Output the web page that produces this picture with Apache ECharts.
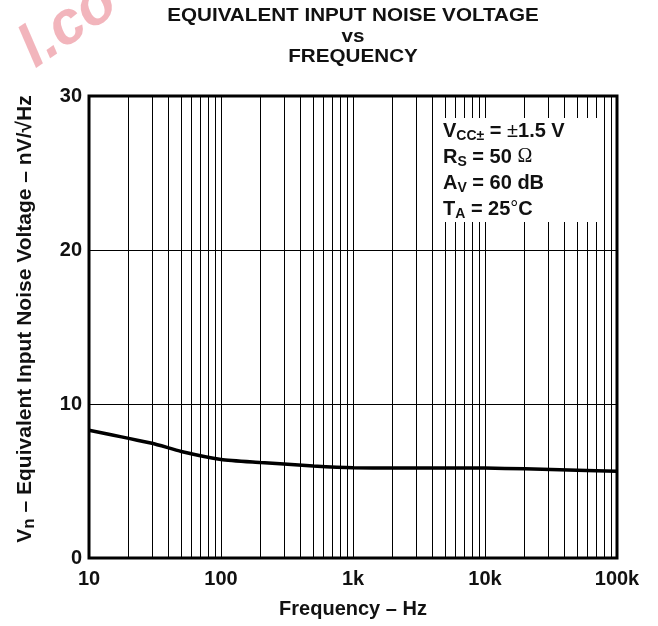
<!DOCTYPE html>
<html>
<head>
<meta charset="utf-8">
<script src="https://cdn.jsdelivr.net/npm/echarts@6/dist/echarts.min.js"></script>
<style>
html,body{margin:0;padding:0;background:#fff;}
#chart{width:658px;height:626px;}
</style>
</head>
<body>
<div id="chart"></div>
<script>
// Data
const freqHz = [10, 30, 50, 100, 200, 300, 500, 1000, 2000, 5000, 10000, 20000, 50000, 100000];
const noiseNv = [8.3, 7.45, 6.92, 6.4, 6.2, 6.1, 5.97, 5.86, 5.85, 5.85, 5.84, 5.79, 5.7, 5.63];
const xTickValues = [10, 100, 1000, 10000, 100000];
const xTickLabels = ['10', '100', '1k', '10k', '100k'];
const yTickLabels = ['0', '10', '20', '30'];
const minorGridFreqs = [20,30,40,50,60,70,80,90, 200,300,400,500,600,700,800,900,
  2000,3000,4000,5000,6000,7000,8000,9000, 20000,30000,40000,50000,60000,70000,80000,90000];
const titleLines = ['EQUIVALENT INPUT NOISE VOLTAGE', 'vs', 'FREQUENCY'];

const FONT = 'Liberation Sans, Arial, sans-serif';
const chart = echarts.init(document.getElementById('chart'));

const titleY = [16, 37, 57];
const titleGraphics = titleLines.map((t, i) => ({
  type: 'text', z: 60, x: 353, y: titleY[i], scaleX: 1.18,
  style: { text: t, x: 0, y: 0, align: 'center', verticalAlign: 'middle',
    font: 'bold 17.5px ' + FONT, fill: '#111' }
}));

const option = {
  backgroundColor: '#fff',
  animation: false,
  grid: { left: 89, right: 41, top: 96, bottom: 68, show: true, borderColor: '#000', borderWidth: 3, backgroundColor: 'transparent' },
  xAxis: {
    type: 'log', logBase: 10, min: 10, max: 100000,
    name: 'Frequency \u2013 Hz', nameLocation: 'middle', nameGap: 41,
    nameTextStyle: { fontFamily: FONT, fontWeight: 'bold', fontSize: 20, color: '#111' },
    axisLine: { show: false }, axisTick: { show: false },
    axisLabel: {
      margin: 11, fontFamily: FONT, fontWeight: 'bold', fontSize: 20, color: '#111',
      formatter: v => { const i = xTickValues.findIndex(t => Math.abs(t - v) / t < 1e-6); return i >= 0 ? xTickLabels[i] : ''; }
    },
    splitLine: { show: true, lineStyle: { color: '#000', width: 1 } }
  },
  yAxis: {
    type: 'value', min: 0, max: 30, interval: 10,
    name: '{v|V}{n|n}{t| \u2013 Equivalent Input Noise Voltage \u2013 nV/\u221AHz}',
    nameLocation: 'middle', nameGap: 51, nameRotate: 90,
    nameTextStyle: {
      fontFamily: FONT, fontWeight: 'bold', fontSize: 21, color: '#111',
      padding: [0, 0, 0, 16],
      rich: {
        v: { fontFamily: FONT, fontWeight: 'bold', fontSize: 21, color: '#111' },
        n: { fontFamily: FONT, fontWeight: 'bold', fontSize: 17, color: '#111', padding: [8, 0, 0, 0] },
        t: { fontFamily: FONT, fontWeight: 'bold', fontSize: 21, color: '#111' }
      }
    },
    axisLine: { show: false }, axisTick: { show: false },
    axisLabel: {
      margin: 7, fontFamily: FONT, fontWeight: 'bold', fontSize: 20, color: '#111',
      formatter: v => yTickLabels[Math.round(v / 10)]
    },
    splitLine: { show: true, lineStyle: { color: '#000', width: 1 } }
  },
  series: [
    {
      type: 'line', data: [], silent: true,
      markLine: {
        silent: true, symbol: 'none', label: { show: false },
        lineStyle: { color: '#000', width: 1, type: 'solid' },
        data: minorGridFreqs.map(f => ({ xAxis: f }))
      },
      z: 1
    },
    {
      type: 'line', data: freqHz.map((f, i) => [f, noiseNv[i]]),
      showSymbol: false, smooth: 0.2, silent: true,
      lineStyle: { color: '#000', width: 3.5 }, z: 5
    }
  ],
  graphic: [
    {
      type: 'rect', z: 50, shape: { x: 438, y: 118, width: 165, height: 104 },
      style: { fill: '#fff' }
    },
    {
      type: 'text', z: 51, left: 443, top: 121,
      style: {
        text: '{b|V}{s|CC\u00B1}{b| = }{r|\u00B1}{b|1.5 V}\n{b|R}{s|S}{b| = 50 }{o|\u03A9}\n{b|A}{s|V}{b| = 60 dB}\n{b|T}{s|A}{b| = 25}{r|\u00B0}{b|C}',
        rich: {
          b: { fontFamily: FONT, fontWeight: 'bold', fontSize: 20, fill: '#111', lineHeight: 26, verticalAlign: 'top' },
          r: { fontFamily: FONT, fontWeight: 'normal', fontSize: 20, fill: '#111', lineHeight: 26, verticalAlign: 'top' },
          o: { fontFamily: 'Liberation Serif, serif', fontWeight: 'normal', fontSize: 20, fill: '#111', lineHeight: 26, verticalAlign: 'top' },
          s: { fontFamily: FONT, fontWeight: 'bold', fontSize: 14, fill: '#111', lineHeight: 26, verticalAlign: 'top', padding: [8, 0, 0, 0] }
        }
      }
    },
    {
      type: 'text', z: 0, x: 9, y: 30, rotation: 0.6,
      style: { text: 'l.co', fontFamily: FONT, fontWeight: 'bold', fontStyle: 'italic', fontSize: 60, fill: '#f0a8b0', opacity: 0.85 }
    }
  ].concat(titleGraphics)
};
chart.setOption(option);
</script>
</body>
</html>
